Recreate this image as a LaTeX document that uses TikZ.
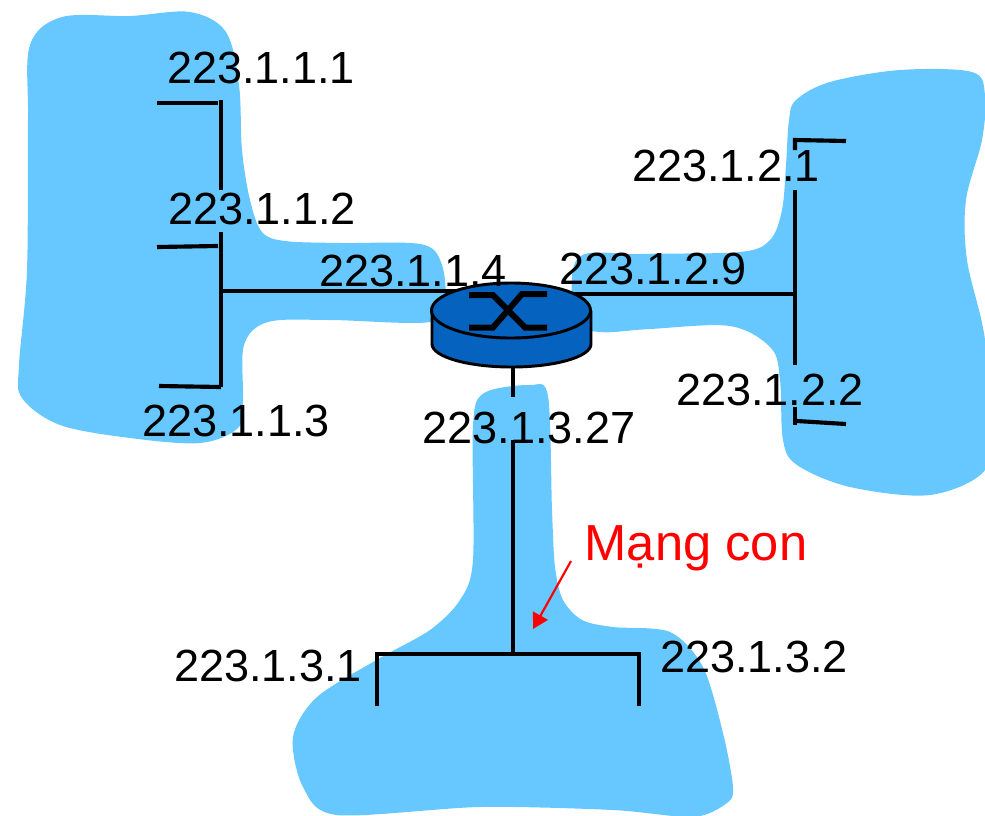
\documentclass[tikz,border=0pt]{standalone}
\usepackage{fontspec}
\setmainfont{Liberation Sans}
\usetikzlibrary{arrows.meta}
\definecolor{blob}{RGB}{102,200,255}
\definecolor{rtrblue}{RGB}{5,98,190}
\tikzset{
 blobshape/.style={fill=blob,draw=none},
 wire/.style={draw=black,line width=3.1pt,line cap=butt,line join=miter},
 addr/.style={font=\fontsize{33.8}{36}\selectfont,inner sep=0pt,anchor=center},
 redlab/.style={font=\fontsize{38}{40}\selectfont,text=red,inner sep=0pt,anchor=center},
 rtredge/.style={draw=black,line width=2.2pt},
 xmark/.style={draw=black,line width=4.5pt,line join=miter}
}
\begin{document}
\begin{tikzpicture}[x=0.75pt,y=-0.75pt]
\useasboundingbox (0,0) rectangle (985,815);
% blobs
\fill[blobshape] plot[smooth cycle,tension=0.55] coordinates {(30,45)(62,17)(130,16)(190,12)(226,32)(239,85)(242,150)(250,200)(262,232)(285,241)(340,243)(420,244)(441,262)(445,300)(430,322)(330,320)(268,322)(244,345)(243,400)(238,428)(200,443)(130,438)(60,425)(22,398)(19,365)(27,270)(28,120)};
\fill[blobshape] plot[smooth cycle,tension=0.55] coordinates {(796,100)(830,82)(900,70)(972,72)(985,95)(982,140)(966,200)(967,260)(985,340)(985,420)(985,470)(930,495)(850,487)(797,465)(783,440)(780,380)(771,348)(730,326)(650,329)(600,332)(575,320)(578,258)(640,254)(740,252)(770,240)(782,210)(786,165)(789,120)};
\fill[blobshape] plot[smooth cycle,tension=0.5] coordinates {(473,425)(484,393)(530,385)(548,396)(552,510)(555,567)(563,600)(582,620)(613,627)(670,632)(703,667)(723,733)(733,787)(727,803)(693,817)(613,810)(480,807)(337,815)(303,787)(293,737)(317,697)(380,658)(430,630)(460,600)(473,560)};
% named points
\coordinate (lbus) at (221,291);
\coordinate (ltop) at (221,100);
\coordinate (lgapa) at (221,190);
\coordinate (lgapb) at (221,232);
\coordinate (lbot) at (221,387);
\coordinate (h1a) at (157,103);
\coordinate (h1b) at (218,103);
\coordinate (h2a) at (157,247);
\coordinate (h2b) at (218,246);
\coordinate (h3a) at (159,386);
\coordinate (rbus) at (795,294);
\coordinate (rtop) at (795,140);
\coordinate (rstub) at (795,150);
\coordinate (rgapt) at (795,190);
\coordinate (rgapb) at (795,365);
\coordinate (rlow) at (795,407);
\coordinate (rbot) at (795,425);
\coordinate (h4) at (846,141);
\coordinate (h5a) at (797,421);
\coordinate (h5) at (846,424);
\coordinate (bj) at (513,654);
\coordinate (bl) at (377,654);
\coordinate (br) at (639,654);
\coordinate (bld) at (377,706);
\coordinate (brd) at (639,706);
\coordinate (rtl) at (470,291);
\coordinate (rtrt) at (560,294);
\coordinate (rtb) at (513,350);
\coordinate (stem) at (513,397);
\coordinate (stemb) at (513,440);
% wires
\draw[wire] (h1a) -- (h1b);
\draw[wire] (ltop) -- (lgapa);
\draw[wire] (lgapb) -- (lbot);
\draw[wire] (h2a) -- (h2b);
\draw[wire] (h3a) -- (lbot);
\draw[wire] (lbus) -- (rtl);
\draw[wire] (rtrt) -- (rbus);
\draw[wire] (h4) -- (rtop) -- (rstub);
\draw[wire] (rgapt) -- (rgapb);
\draw[wire] (rlow) -- (rbot);
\draw[wire] (h5a) -- (h5);
\draw[wire] (rtb) -- (stem);
\draw[wire] (stemb) -- (bj);
\draw[wire] (bld) -- (bl) -- (br) -- (brd);
% router
\draw[rtredge,fill=rtrblue] (432,312) -- (432,344) arc[start angle=180,end angle=0,x radius=79.5,y radius=23] -- (591,312) -- cycle;
\draw[rtredge,fill=rtrblue] (511,310.5) ellipse[x radius=79.5,y radius=27.5];
\draw[xmark] (469,295) -- (493,295) -- (525,327.5) -- (547,327.5);
\draw[xmark] (469,327.5) -- (493,327.5) -- (522,294) -- (547,294);
% labels
\node[addr] (a1) at (261,68) {223.1.1.1};
\node[addr] (a2) at (262,209) {223.1.1.2};
\node[addr] (a3) at (236,421) {223.1.1.3};
\node[addr] (a4) at (413,271) {223.1.1.4};
\node[addr] (a5) at (726,166) {223.1.2.1};
\node[addr] (a6) at (653,269) {223.1.2.9};
\node[addr] (a7) at (770,390) {223.1.2.2};
\node[addr] (a8) at (529,428) {223.1.3.27};
\node[addr] (a9) at (268,666) {223.1.3.1};
\node[addr] (a10) at (754,657) {223.1.3.2};
\node[redlab] (m) at (696,548) {Mạng con};
\coordinate (tail) at (571,561);
\coordinate (tip) at (533,629);
\draw[red,line width=1.6pt,-{Triangle[length=11.5pt,width=12.5pt]}] (tail) -- (tip);
\end{tikzpicture}
\end{document}
